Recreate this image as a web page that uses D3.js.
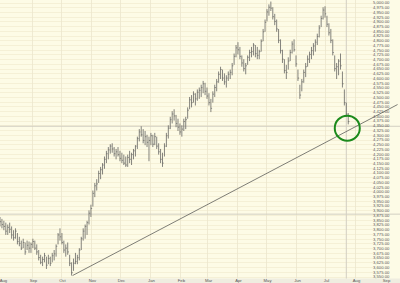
<!DOCTYPE html>
<html>
<head>
<meta charset="utf-8">
<script src="https://cdn.jsdelivr.net/npm/d3@7"></script>
<style>
  html, body { margin: 0; padding: 0; background: #fdfbe6; }
  svg { display: block; }
</style>
</head>
<body>
<div id="chart"></div>
<script>
// daily-ish bars, one every 2 days starting Jul 30 2005
const startDate = new Date(2005, 6, 30);
const highs = [
  3865,3855,3845,3835,3825,3835,3815,3795,3805,3780,3760,3740,3750,3730,3740,3735,3730,3750,3740,3720,
  3690,3665,3655,3675,3655,3665,3655,3675,3690,3720,3780,3805,3780,3740,3720,3730,3665,3625,3645,3675,
  3665,3700,3760,3805,3825,3845,3900,3930,4005,4045,4065,4110,4130,4150,4185,4215,4235,4250,4255,4235,
  4225,4235,4215,4205,4195,4185,4195,4215,4205,4225,4245,4290,4330,4345,4330,4320,4300,4290,4310,4300,
  4310,4290,4255,4225,4205,4255,4310,4350,4395,4425,4435,4405,4385,4360,4350,4385,4395,4445,4500,4510,
  4530,4520,4540,4550,4565,4585,4575,4550,4520,4490,4530,4565,4595,4635,4660,4645,4625,4615,4635,4645,
  4680,4730,4775,4790,4765,4720,4700,4680,4720,4750,4765,4785,4775,4765,4750,4805,4860,4910,4965,4990,
  5005,4975,4940,4910,4860,4805,4750,4700,4670,4710,4750,4795,4805,4720,4645,4565,4595,4645,4680,4720,
  4740,4765,4785,4805,4835,4880,4930,4975,4980,4930,4890,4860,4805,4720,4680,4700,4730,4635,4540,4470,
  4415
];
const lows = [
  3815,3805,3795,3770,3770,3780,3750,3740,3750,3720,3710,3690,3700,3665,3690,3675,3675,3700,3690,3665,
  3635,3615,3605,3625,3590,3615,3605,3625,3635,3655,3720,3740,3720,3675,3655,3665,3605,3555,3580,3615,
  3615,3635,3690,3740,3750,3770,3825,3865,3920,3970,4005,4045,4065,4090,4120,4150,4170,4200,4205,4185,
  4170,4185,4160,4150,4140,4130,4130,4150,4140,4170,4185,4225,4265,4290,4255,4245,4235,4160,4245,4235,
  4245,4225,4195,4150,4130,4185,4235,4280,4330,4360,4375,4340,4320,4300,4290,4320,4330,4385,4435,4445,
  4470,4455,4480,4490,4500,4520,4510,4490,4455,4420,4470,4500,4530,4575,4595,4585,4565,4550,4585,4595,
  4615,4670,4710,4725,4700,4660,4635,4620,4670,4690,4710,4720,4710,4700,4700,4740,4795,4845,4900,4930,
  4955,4910,4880,4845,4785,4730,4680,4625,4595,4645,4690,4730,4740,4660,4585,4490,4530,4575,4605,4660,
  4680,4700,4720,4740,4775,4815,4870,4910,4920,4870,4825,4785,4720,4635,4595,4615,4645,4550,4455,4395,
  4355
];
const closes = [
  3840,3825,3815,3790,3810,3800,3770,3755,3790,3735,3725,3700,3730,3680,3715,3700,3720,3735,3700,3680,
  3650,3625,3640,3660,3610,3645,3620,3660,3670,3710,3770,3760,3730,3690,3700,3680,3620,3570,3620,3630,
  3650,3690,3750,3790,3815,3835,3885,3910,3990,4030,4040,4095,4115,4140,4170,4200,4220,4240,4225,4200,
  4210,4195,4175,4165,4150,4140,4180,4170,4195,4215,4240,4280,4315,4300,4270,4290,4260,4270,4295,4250,
  4290,4240,4210,4170,4150,4240,4295,4335,4380,4410,4400,4360,4340,4315,4330,4370,4380,4430,4485,4470,
  4515,4490,4525,4535,4550,4570,4530,4505,4470,4440,4515,4550,4580,4620,4645,4600,4580,4600,4620,4630,
  4665,4715,4760,4750,4715,4680,4650,4665,4710,4735,4740,4775,4730,4720,4740,4795,4845,4895,4950,4975,
  4970,4925,4900,4860,4800,4745,4700,4640,4630,4690,4735,4780,4750,4675,4600,4510,4580,4630,4660,4700,
  4725,4745,4770,4790,4820,4865,4915,4960,4940,4885,4840,4800,4735,4650,4660,4690,4665,4570,4470,4410,
  4370
];

const yTicks = d3.range(3550, 5001, 25);
const months = ["2005-08-01","2005-09-01","2005-10-01","2005-11-01","2005-12-01","2006-01-01","2006-02-01",
                "2006-03-01","2006-04-01","2006-05-01","2006-06-01","2006-07-01","2006-08-01","2006-09-01"];
const refLevels = [4345, 3880];
const markerDate = "2006-07-23";
const trendPoints = [{ date: "2005-10-13", value: 3555 }, { date: "2006-09-14", value: 4460 }];
const circleAt = { date: "2006-07-24", value: 4335 };

const width = 400, height = 283;
const plotRight = 371, plotBottom = 278.5;
const parse = d3.timeParse("%Y-%m-%d");

const bars = highs.map((h, i) => ({
  date: d3.timeDay.offset(startDate, 2 * i),
  high: h, low: lows[i], close: closes[i]
}));

const x = d3.scaleTime()
  .domain([startDate, new Date(2006, 8, 1)])
  .range([0, 385]);
const y = d3.scaleLinear()
  .domain([3550, 5000])
  .range([276.5, 2.5]);

const svg = d3.select("#chart").append("svg")
  .attr("width", width)
  .attr("height", height);

svg.append("rect")
  .attr("width", width).attr("height", height)
  .attr("fill", "#fdfbe6");

// bottom strip
svg.append("rect")
  .attr("x", 0).attr("y", plotBottom)
  .attr("width", width).attr("height", height - plotBottom)
  .attr("fill", "#efede0");

// horizontal grid
svg.append("g")
  .selectAll("line")
  .data(yTicks)
  .join("line")
  .attr("x1", 0).attr("x2", plotRight + 2)
  .attr("y1", d => Math.round(y(d)) + 0.5)
  .attr("y2", d => Math.round(y(d)) + 0.5)
  .attr("stroke", "#f2edd2")
  .attr("stroke-width", 0.8);

// vertical month grid
const monthDates = months.map(parse);
svg.append("g")
  .selectAll("line")
  .data(monthDates.filter(d => x(d) > 2 && x(d) < plotRight))
  .join("line")
  .attr("x1", d => Math.round(x(d)) + 0.5)
  .attr("x2", d => Math.round(x(d)) + 0.5)
  .attr("y1", 0).attr("y2", plotBottom)
  .attr("stroke", "#ebe6cd")
  .attr("stroke-width", 0.8);

// darker reference lines
svg.append("g")
  .selectAll("line")
  .data(refLevels)
  .join("line")
  .attr("x1", 0).attr("x2", width)
  .attr("y1", d => y(d)).attr("y2", d => y(d))
  .attr("stroke", "#d2cfc2")
  .attr("stroke-width", 1);

svg.append("line")
  .attr("x1", x(parse(markerDate))).attr("x2", x(parse(markerDate)))
  .attr("y1", 0).attr("y2", plotBottom)
  .attr("stroke", "#d2cfc2")
  .attr("stroke-width", 1);

// HLC bars
const barG = svg.append("g");
barG.selectAll("line.hl")
  .data(bars)
  .join("line")
  .attr("class", "hl")
  .attr("x1", d => x(d.date)).attr("x2", d => x(d.date))
  .attr("y1", d => y(d.high)).attr("y2", d => y(d.low))
  .attr("stroke", "#646462")
  .attr("stroke-width", 0.8);
barG.selectAll("line.cl")
  .data(bars)
  .join("line")
  .attr("class", "cl")
  .attr("x1", d => x(d.date)).attr("x2", d => x(d.date) + 1.2)
  .attr("y1", d => y(d.close)).attr("y2", d => y(d.close))
  .attr("stroke", "#646462")
  .attr("stroke-width", 0.7);

// trend line
svg.append("line")
  .attr("x1", x(parse(trendPoints[0].date))).attr("y1", y(trendPoints[0].value))
  .attr("x2", x(parse(trendPoints[1].date))).attr("y2", y(trendPoints[1].value))
  .attr("stroke", "#5e5e5a")
  .attr("stroke-width", 0.8);

// circle annotation
svg.append("circle")
  .attr("cx", x(parse(circleAt.date)))
  .attr("cy", y(circleAt.value))
  .attr("r", 12.5)
  .attr("fill", "none")
  .attr("stroke", "#1c8a1c")
  .attr("stroke-width", 2);

// right axis
const yAxis = d3.axisRight(y)
  .tickValues(yTicks)
  .tickFormat(d3.format(",.2f"))
  .tickSize(0)
  .tickPadding(2);
const yG = svg.append("g")
  .attr("transform", `translate(${plotRight},0)`)
  .call(yAxis);
yG.select(".domain").remove();
yG.selectAll("text")
  .attr("font-family", "Liberation Sans, Arial, sans-serif")
  .attr("font-size", 4.2)
  .attr("fill", "#555");

// bottom axis
const xAxis = d3.axisBottom(x)
  .tickValues(monthDates)
  .tickFormat(d3.timeFormat("%b"))
  .tickSize(0)
  .tickPadding(0.6);
const xG = svg.append("g")
  .attr("transform", `translate(1,${plotBottom})`)
  .call(xAxis);
xG.select(".domain").remove();
xG.selectAll("text")
  .attr("font-family", "Liberation Sans, Arial, sans-serif")
  .attr("font-size", 4.2)
  .attr("fill", "#555");
</script>
</body>
</html>
